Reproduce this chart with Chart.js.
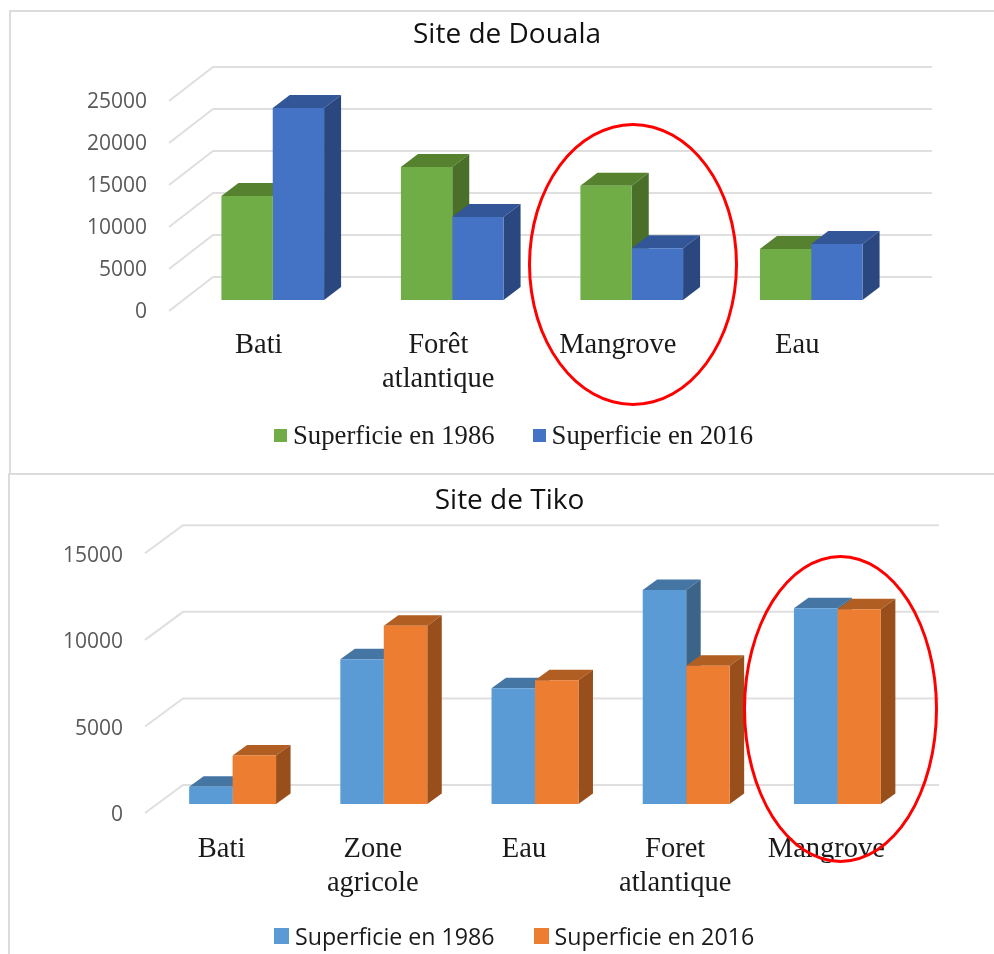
<!DOCTYPE html>
<html>
<head>
<meta charset="utf-8">
<script src="https://cdn.jsdelivr.net/npm/chart.js@4"></script>
<style>
    html, body { margin: 0; padding: 0; background: #fff; }
    #page { position: relative; width: 994px; height: 954px; overflow: hidden; }
    canvas { position: absolute; left: 0; }
    .frame { position: absolute; border-top: 2px solid #dcdcdc; border-left: 2px solid #dcdcdc; }
    .ring { position: absolute; box-sizing: border-box; border: 3px solid #f00; border-radius: 50%; }
    .legend { position: absolute; display: flex; align-items: center; white-space: nowrap; color: #1a1a1a; }
    .legend i { display: block; }
</style>
</head>
<body>
<div id="page">
    <div class="frame" style="left:9px;top:10px;width:985px;height:463px"></div>
    <div class="frame" style="left:8px;top:473px;width:986px;height:481px"></div>
    <canvas id="douala" width="994" height="472" style="top:0"></canvas>
    <canvas id="tiko" width="994" height="482" style="top:472px"></canvas>
    <div id="doualaLegend" class="legend" style="left:274px;top:419px;height:32px;font:26.7px 'Liberation Serif'"></div>
    <div id="tikoLegend" class="legend" style="left:274px;top:920px;height:32px;font:23.2px 'Open Sans'"></div>
    <div class="ring" style="left:528px;top:123px;width:210px;height:283px"></div>
    <div class="ring" style="left:743px;top:555px;width:195px;height:308px"></div>
</div>
<script>
const seriesLabels = ["Superficie en 1986", "Superficie en 2016"]

const doualaCategories = ["Bati", ["Forêt", "atlantique"], "Mangrove", "Eau"]
const douala1986 = [12380, 15830, 13600, 6070]
const douala2016 = [22860, 9880, 6150, 6670]

const tikoCategories = ["Bati", ["Zone", "agricole"], "Eau", ["Foret", "atlantique"], "Mangrove"]
const tiko1986 = [1000, 8365, 6690, 12360, 11300]
const tiko2016 = [2800, 10300, 7150, 7980, 11250]

// draws the fake 3D part: back wall lines, then bar tops and sides
const depthPlugin = {
    id: "depth",
    afterLayout(chart, args, opts) {
        // title is centred on the picture, not on the plot
        chart.titleBlock.left += opts.titleShift
        chart.titleBlock.right += opts.titleShift
    },
    beforeDatasetsDraw(chart, args, opts) {
        const c = chart.ctx
        const y = chart.scales.y
        const left = chart.chartArea.left
        c.save()
        c.strokeStyle = "#dfdfdf"
        c.lineWidth = 2
        y.ticks.forEach(t => {
            const py = y.getPixelForValue(t.value)
            c.beginPath()
            c.moveTo(left + opts.front[0], py + opts.front[1])
            c.lineTo(left + opts.back[0], py + opts.back[1])
            c.lineTo(opts.gridRight, py + opts.back[1])
            c.stroke()
        })
        const dx = opts.bar[0], dy = opts.bar[1]
        const count = chart.data.labels.length
        for (let i = 0; i < count; i++) {
            chart.data.datasets.forEach((ds, d) => {
                const b = chart.getDatasetMeta(d).data[i]
                const l = b.x - b.width / 2, r = b.x + b.width / 2
                c.fillStyle = ds.topColor
                c.beginPath()
                c.moveTo(l, b.y)
                c.lineTo(l + dx, b.y + dy)
                c.lineTo(r + dx, b.y + dy)
                c.lineTo(r, b.y)
                c.fill()
                c.fillStyle = ds.sideColor
                c.beginPath()
                c.moveTo(r, b.y)
                c.lineTo(r + dx, b.y + dy)
                c.lineTo(r + dx, b.base + dy)
                c.lineTo(r, b.base)
                c.fill()
            })
        }
        c.restore()
    }
}

function buildLegend(chart, id, boxW, boxH, boxGap, itemGap) {
    const el = document.getElementById(id)
    chart.data.datasets.forEach((ds, i) => {
        const box = document.createElement("i")
        box.style.cssText = `width:${boxW}px;height:${boxH}px;background:${ds.backgroundColor};margin-right:${boxGap}px`
        if (i > 0) box.style.marginLeft = itemGap + "px"
        const label = document.createElement("span")
        label.textContent = ds.label
        el.appendChild(box)
        el.appendChild(label)
    })
}

function makeChart(id, s) {
    return new Chart(document.getElementById(id), {
        type: "bar",
        data: {
            labels: s.categories,
            datasets: s.values.map((v, i) => ({
                label: seriesLabels[i],
                data: v,
                backgroundColor: s.colors[i][0],
                topColor: s.colors[i][1],
                sideColor: s.colors[i][2],
                borderWidth: 0,
                categoryPercentage: s.groupShare,
                barPercentage: 1,
            })),
        },
        options: {
            responsive: false,
            animation: false,
            layout: { padding: { left: 0, right: s.rightPad, top: 0, bottom: 0 } },
            scales: {
                x: {
                    border: { display: false },
                    grid: { display: false, drawTicks: false },
                    afterFit: a => { a.height = s.xHeight },
                    ticks: {
                        autoSkip: false,
                        maxRotation: 0,
                        padding: s.xPad,
                        labelOffset: s.xOffset,
                        color: "#1a1a1a",
                        font: { family: "'Liberation Serif'", size: 28.5, lineHeight: s.xLine },
                    },
                },
                y: {
                    min: 0,
                    max: s.max,
                    border: { display: false },
                    grid: { display: false, drawTicks: false },
                    afterFit: a => { a.width = s.yWidth },
                    ticks: {
                        stepSize: 5000,
                        format: { useGrouping: false },
                        padding: s.yPad,
                        labelOffset: s.yOffset,
                        color: "#595959",
                        font: { family: "'Open Sans'", size: 21 },
                    },
                },
            },
            plugins: {
                legend: { display: false },
                tooltip: { enabled: false },
                title: {
                    display: true,
                    text: s.title,
                    color: "#111",
                    font: { family: "'Open Sans'", size: 28, weight: "normal", lineHeight: 1.2 },
                    padding: s.titlePad,
                },
                depth: s.depth,
            },
        },
        plugins: [depthPlugin],
    })
}

const doualaChart = makeChart("douala", {
    title: "Site de Douala",
    categories: doualaCategories,
    values: [douala1986, douala2016],
    colors: [["#70ad47", "#56812f", "#4a6f28"], ["#4472c4", "#325697", "#2a4780"]],
    groupShare: 0.572,
    max: 25000,
    rightPad: 93,
    xHeight: 172,
    yWidth: 183,
    xPad: 29,
    xOffset: -14,
    xLine: 1.17,
    yPad: 36,
    yOffset: 12,
    titlePad: { top: 18.2, bottom: 38.2 },
    depth: { titleShift: 56.5, front: [-14, 11], back: [30, -23], bar: [17, -13], gridRight: 932 },
})

const tikoChart = makeChart("tiko", {
    title: "Site de Tiko",
    categories: tikoCategories,
    values: [tiko1986, tiko2016],
    colors: [["#5b9bd5", "#4575a3", "#3b6488"], ["#ed7d31", "#b15e22", "#984f1b"]],
    groupShare: 0.575,
    max: 15000,
    rightPad: 81,
    xHeight: 150,
    yWidth: 157,
    xPad: 28,
    xOffset: -11,
    xLine: 1.2,
    yPad: 34,
    yOffset: 11.5,
    titlePad: { top: 12.2, bottom: 26.5 },
    depth: { titleShift: 53, front: [-12, 9], back: [26, -19], bar: [14.5, -10.5], gridRight: 939 },
})

buildLegend(doualaChart, "doualaLegend", 13, 13, 6, 38)
buildLegend(tikoChart, "tikoLegend", 15, 16, 6, 39)
</script>
</body>
</html>
